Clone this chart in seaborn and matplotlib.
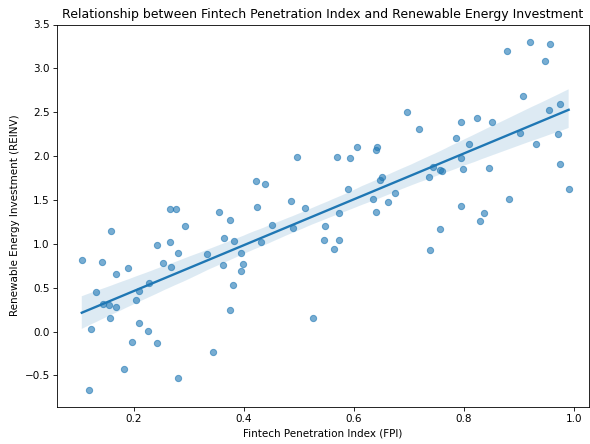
import matplotlib
matplotlib.use("Agg")
import matplotlib.pyplot as plt
import seaborn as sns
import pandas as pd

fpi = [0.105, 0.141, 0.158, 0.131, 0.167, 0.189, 0.143, 0.154, 0.167, 0.157,
       0.122, 0.119, 0.181, 0.197, 0.209, 0.204, 0.209, 0.226, 0.228, 0.241,
       0.241, 0.253, 0.265, 0.268, 0.280, 0.266, 0.277, 0.292, 0.280, 0.333,
       0.344, 0.354, 0.375, 0.364, 0.362, 0.381, 0.380, 0.375, 0.394, 0.394,
       0.398, 0.423, 0.430, 0.450, 0.486, 0.489, 0.511, 0.526, 0.547, 0.545,
       0.572, 0.564, 0.573, 0.421, 0.438, 0.497, 0.569, 0.593, 0.605, 0.641,
       0.640, 0.589, 0.635, 0.639, 0.651, 0.647, 0.662, 0.674, 0.696, 0.718,
       0.743, 0.737, 0.757, 0.760, 0.786, 0.794, 0.809, 0.795, 0.798, 0.823,
       0.850, 0.846, 0.878, 0.919, 0.957, 0.947, 0.907, 0.901, 0.955, 0.975,
       0.970, 0.930, 0.975, 0.990, 0.881, 0.795, 0.836, 0.829, 0.757, 0.738]
reinv = [0.814, 0.788, 1.145, 0.446, 0.655, 0.727, 0.317, 0.298, 0.276, 0.154,
         0.032, -0.666, -0.427, -0.123, 0.100, 0.359, 0.465, 0.006, 0.549, -0.131,
         0.989, 0.777, 1.023, 0.738, 0.890, 1.392, 1.399, 1.202, -0.530, 0.886,
         -0.230, 1.357, 1.270, 1.065, 0.754, 1.031, 0.530, 0.245, 0.900, 0.693,
         0.765, 1.421, 1.023, 1.213, 1.483, 1.175, 1.403, 0.157, 1.205, 1.039,
         1.046, 0.943, 1.350, 1.711, 1.677, 1.995, 1.987, 1.980, 2.098, 2.109,
         2.071, 1.623, 1.513, 1.365, 1.763, 1.733, 1.475, 1.574, 2.503, 2.306,
         1.870, 1.763, 1.839, 1.831, 2.204, 2.394, 2.143, 1.973, 1.851, 2.435,
         2.394, 1.859, 3.203, 3.305, 3.278, 3.089, 2.682, 2.261, 2.526, 2.599,
         2.253, 2.139, 1.908, 1.623, 1.513, 1.429, 1.350, 1.255, 1.167, 0.928]

df = pd.DataFrame({"FPI": fpi, "REINV": reinv})

DPI = 75
fig = plt.figure(figsize=(590 / DPI, 444 / DPI), dpi=DPI)
ax = fig.add_axes([57 / 590, 1 - 406.7 / 444, (589 - 57) / 590, (406.7 - 24.5) / 444])
sns.regplot(data=df, x="FPI", y="REINV", ax=ax, seed=0,
            scatter_kws={"alpha": 0.6})
ax.set_xlim(0.06, 1.027)
ax.set_ylim(-0.857, 3.50)
ax.set_title("Relationship between Fintech Penetration Index and Renewable Energy Investment")
ax.set_xlabel("Fintech Penetration Index (FPI)")
ax.set_ylabel("Renewable Energy Investment (REINV)")
fig.savefig("out.png", dpi=DPI)
